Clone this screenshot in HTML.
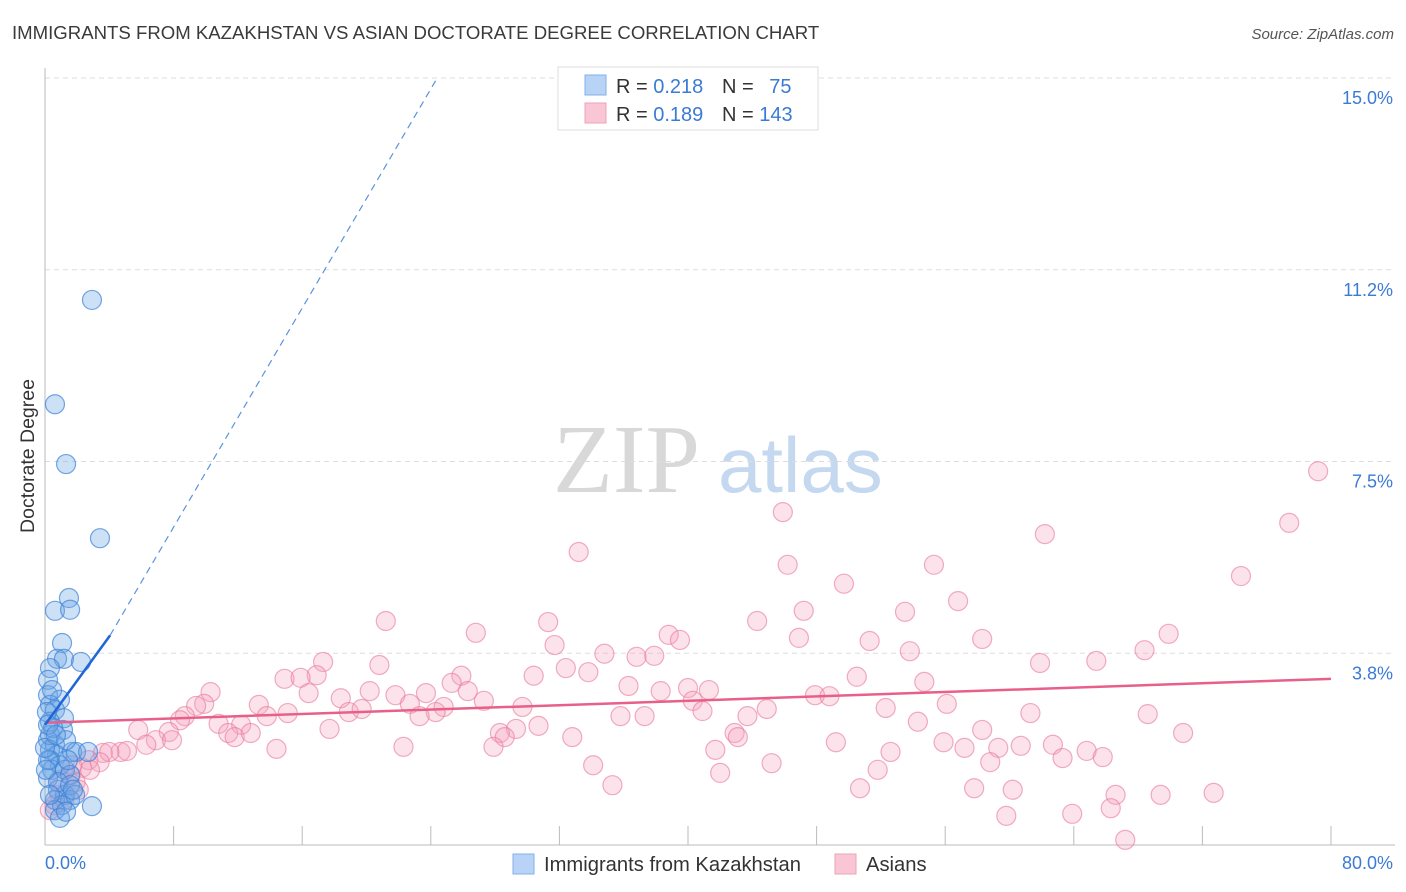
<!DOCTYPE html>
<html><head><meta charset="utf-8"><style>
body{margin:0;background:#fff;font-family:"Liberation Sans",sans-serif}
</style></head><body>
<svg id="chart" width="1406" height="892" xmlns="http://www.w3.org/2000/svg" style="display:block">
<text x="12" y="39" font-size="18.6" fill="#3a3a3a">IMMIGRANTS FROM KAZAKHSTAN VS ASIAN DOCTORATE DEGREE CORRELATION CHART</text>
<text x="1394" y="39" font-size="15" fill="#555" font-style="italic" text-anchor="end">Source: ZipAtlas.com</text>
<g>
<text x="553" y="492" font-family="Liberation Serif,serif" font-size="98" fill="#d8d8d8">ZIP</text>
<text x="718" y="492" font-size="78" fill="#c4d8f0">atlas</text>
</g>
<g id="grid"></g>
<g id="axes"></g>
<g id="pts"></g>
<g id="trends"></g>
<text transform="translate(34,456) rotate(-90)" font-size="19.5" fill="#333" text-anchor="middle">Doctorate Degree</text>
<g>
<rect x="558" y="67" width="260" height="63" fill="#fff" stroke="#ddd"/>
<rect x="585" y="75" width="21" height="20" fill="#b8d3f5" stroke="#7fb0ea"/>
<rect x="585" y="103" width="21" height="20" fill="#f9c6d5" stroke="#eea0b8"/>
<text x="616" y="93" font-size="20" fill="#333">R = <tspan fill="#3a7bd5">0.218</tspan></text>
<text x="722" y="93" font-size="20" fill="#333">N = <tspan fill="#3a7bd5" dx="10">75</tspan></text>
<text x="616" y="121" font-size="20" fill="#333">R = <tspan fill="#3a7bd5">0.189</tspan></text>
<text x="722" y="121" font-size="20" fill="#333">N = <tspan fill="#3a7bd5">143</tspan></text>
</g>
<g>
<rect x="513" y="854" width="21" height="20" fill="#b8d3f5" stroke="#7fb0ea"/>
<text x="544" y="871" font-size="20.2" fill="#333">Immigrants from Kazakhstan</text>
<rect x="835" y="854" width="21" height="20" fill="#f9c6d5" stroke="#eea0b8"/>
<text x="866" y="871" font-size="20.2" fill="#333">Asians</text>
</g>
</svg>
<script>
const yTicks=[3.75,7.5,11.25,15];
const yTickLabels=["3.8%","7.5%","11.2%","15.0%"];
const xTicks=[0,8,16,24,32,40,48,56,64,72,80];
const blueX=[2.92,0.62,1.31,3.42,1.49,0.62,1.56,1.06,0.75,1.18,2.24,0.31,0.19,0.19,0.93,0.31,0.62,1.18,0.31,1.12,0.19,0.62,0.31,0.75,1.68,1.93,2.68,0.31,0.93,0.44,1.24,0.19,1.56,0.81,1.24,0.62,1.56,1.06,2.92,0.62,0.93,0.31,1.31,0.19,0.81,1.56,0.44,0.12,0.5,0.0,1.43,1.87,0.31,1.31,0.19,0.68,0.06,1.74];
const blueY=[10.66,8.62,7.45,6.00,4.83,4.58,4.60,3.95,3.64,3.64,3.58,3.46,3.23,2.93,2.84,2.74,2.64,2.48,2.41,2.25,2.05,1.96,1.86,1.76,1.82,1.82,1.82,1.66,1.56,1.47,1.47,1.31,1.37,1.08,0.98,0.88,0.88,0.78,0.76,0.68,0.53,2.15,2.05,1.66,1.23,1.17,3.03,2.60,2.29,1.9,1.66,0.98,0.98,0.65,2.35,2.15,1.47,1.08];
const pinkX=[79.2,45.9,77.4,33.2,62.2,46.2,55.3,74.4,49.7,56.8,47.2,53.5,21.2,31.3,44.3,26.8,38.8,39.5,69.9,46.9,51.3,58.3,31.7,53.8,68.4,34.8,36.8,37.9,17.3,20.8,61.9,65.4,32.4,33.8,16.9,14.9,15.9,25.9,30.4,50.5,25.3,54.7,10.3,36.3,26.3,38.3,40.0,41.3,20.2,16.4,23.7,21.8,18.4,27.3,40.3,47.9,48.8,9.9,13.3,9.4,22.7,24.8,24.3,29.7,40.9,56.1,44.9,15.1,52.3,18.9,19.7,8.7,35.8,37.3,61.3,43.7,8.4,13.8,23.3,68.6,54.3,10.8,12.2,17.7,29.3,30.7,28.3,28.6,11.4,11.8,12.8,5.8,7.7,6.9,6.3,7.9,42.9,43.1,58.3,70.8,32.8,49.2,22.3,27.9,55.9,60.7,59.3,62.7,57.2,64.8,4.7,5.1,3.6,4.0,14.4,52.6,41.7,65.8,63.3,2.7,3.4,58.8,45.2,34.1,2.3,51.8,42.0,1.6,1.9,35.3,50.7,57.8,66.6,60.2,69.4,72.7,66.3,63.9,59.8,67.2,0.9,0.6,1.2,0.3,2.8,2.1,0.9,1.7];
const pinkY=[7.31,6.51,6.30,5.73,6.08,5.48,5.48,5.26,5.11,4.77,4.58,4.56,4.38,4.36,4.38,4.15,4.11,4.01,4.13,4.05,3.99,4.03,3.91,3.79,3.81,3.74,3.68,3.70,3.58,3.52,3.56,3.60,3.46,3.38,3.32,3.25,3.27,3.31,3.31,3.29,3.17,3.19,2.99,3.11,3.01,3.01,3.07,3.03,3.01,2.97,2.97,2.93,2.87,2.82,2.82,2.93,2.91,2.76,2.74,2.72,2.76,2.70,2.60,2.70,2.62,2.76,2.66,2.58,2.68,2.60,2.66,2.52,2.52,2.52,2.58,2.52,2.44,2.52,2.52,2.56,2.41,2.37,2.35,2.27,2.27,2.33,2.19,2.11,2.19,2.11,2.19,2.25,2.21,2.05,1.96,2.05,2.19,2.11,2.25,2.19,2.11,2.01,1.92,1.92,2.01,1.94,1.90,1.96,1.90,1.84,1.82,1.84,1.80,1.82,1.88,1.82,1.86,1.72,1.70,1.66,1.62,1.62,1.60,1.56,1.51,1.47,1.41,1.37,1.23,1.17,1.11,1.11,0.98,1.08,0.98,1.02,0.72,0.61,0.57,0.10,0.98,0.78,0.88,0.68,1.47,1.08,1.27,1.56];
const blueTrend=[[0,2.35],[4.05,4.1]];
const blueTrendExt=[[4.05,4.1],[24.4,15]];
const pinkTrend=[[0,2.39],[80,3.25]];
const NS="http://www.w3.org/2000/svg";
const X=v=>45+v*(1286/80), Y=v=>845-v*(767/15);
function mk(tag,attrs,parent){const e=document.createElementNS(NS,tag);for(const k in attrs)e.setAttribute(k,attrs[k]);parent.appendChild(e);return e;}
const grid=document.getElementById('grid'),axes=document.getElementById('axes'),pts=document.getElementById('pts'),tr=document.getElementById('trends');
yTicks.forEach((t,i)=>{
 const l=mk('line',{x1:45,x2:1395,y1:Y(t),y2:Y(t),stroke:'#ddd','stroke-dasharray':'5,4'},grid);
 
 
 const tx=mk('text',{x:1393,y:Y(t)+26,'font-size':18,fill:'#3a7bd5','text-anchor':'end'},axes);
 tx.textContent=yTickLabels[i];
 
 
});
const ya=mk('line',{x1:45,x2:45,y1:68,y2:845,stroke:'#bbb'},axes);


const xa=mk('line',{x1:45,x2:1395,y1:845,y2:845,stroke:'#bbb'},axes);


xTicks.forEach(t=>{
 const l=mk('line',{x1:X(t),x2:X(t),y1:826,y2:845,stroke:'#bbb'},axes);
 
 
});
const xl0=mk('text',{x:45,y:869,'font-size':18,fill:'#3a7bd5'},axes);xl0.textContent='0.0%';


const xl1=mk('text',{x:1393,y:869,'font-size':18,fill:'#3a7bd5','text-anchor':'end'},axes);xl1.textContent='80.0%';


pinkX.forEach((v,i)=>{
 const c=mk('circle',{cx:X(v),cy:Y(pinkY[i]),r:9.5,fill:'rgba(244,160,188,0.3)',stroke:'rgba(232,120,155,0.6)','stroke-width':1.2},pts);
 
 
});
blueX.forEach((v,i)=>{
 const c=mk('circle',{cx:X(v),cy:Y(blueY[i]),r:9.5,fill:'rgba(110,165,230,0.35)',stroke:'rgba(60,130,215,0.7)','stroke-width':1.2},pts);
 
 
});
const pl=mk('line',{x1:X(pinkTrend[0][0]),y1:Y(pinkTrend[0][1]),x2:X(pinkTrend[1][0]),y2:Y(pinkTrend[1][1]),stroke:'#e8608a','stroke-width':2.5},tr);


const bl=mk('line',{x1:X(blueTrend[0][0]),y1:Y(blueTrend[0][1]),x2:X(blueTrend[1][0]),y2:Y(blueTrend[1][1]),stroke:'#1f66d6','stroke-width':2.5},tr);


const bd=mk('line',{x1:X(blueTrendExt[0][0]),y1:Y(blueTrendExt[0][1]),x2:X(blueTrendExt[1][0]),y2:Y(blueTrendExt[1][1]),stroke:'#5b93dd','stroke-width':1.2,'stroke-dasharray':'7,5'},tr);


</script>
</body></html>
